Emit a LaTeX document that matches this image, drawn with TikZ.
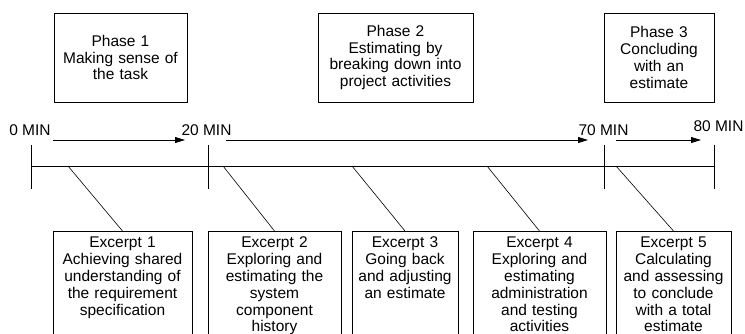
\documentclass[tikz,border=0pt]{standalone}
\usepackage{fontspec}
\setmainfont{Liberation Sans}
\usetikzlibrary{arrows.meta, positioning}

\tikzset{
  phasebox/.style={draw, line width=0.8pt, align=center, inner xsep=2pt, minimum height=89pt},
  excerptbox/.style={draw, line width=0.8pt, anchor=north, align=center, inner xsep=2pt, inner ysep=5.5pt,
    text height=11pt, text depth=110pt},
  minlabel/.style={inner sep=0pt},
  timearrow/.style={line width=0.8pt, -{Triangle[length=10pt,width=6pt]}},
  timeline/.style={line width=0.8pt}
}

\begin{document}
\begin{tikzpicture}[x=1pt, y=-1pt, font=\fontsize{15.5}{16.8}\selectfont]
  \useasboundingbox (0,0) rectangle (745,333);

  % phases
  \node[phasebox, minimum width=133pt, text width=129pt] (phase1) at (120.5,57.5) {Phase 1\\Making sense of\\the task};
  \node[phasebox, minimum width=155pt, text width=151pt] (phase2) at (395.5,57.5) {Phase 2\\Estimating by\\breaking down into\\project activities};
  \node[phasebox, minimum width=110pt, text width=106pt] (phase3) at (659,57.5) {Phase 3\\Concluding\\with an\\estimate};

  % time labels
  \node[minlabel] (m0) at (30,130.5) {0 MIN};
  \node[minlabel] (m20) at (206.5,130.5) {20 MIN};
  \node[minlabel] (m70) at (603.5,130.5) {70 MIN};
  \node[minlabel] (m80) at (718.5,126) {80 MIN};

  \coordinate (a1s) at (53,140);  \coordinate (a1e) at (185,140);
  \coordinate (a2s) at (226,140); \coordinate (a2e) at (588,140);
  \coordinate (a3s) at (616,140); \coordinate (a3e) at (701,140);
  \draw[timearrow] (a1s) -- (a1e);
  \draw[timearrow] (a2s) -- (a2e);
  \draw[timearrow] (a3s) -- (a3e);

  % timeline with ticks
  \coordinate (t0) at (31,166);
  \coordinate (t20) at (208,166);
  \coordinate (t70) at (604,166);
  \coordinate (t80) at (714,166);
  \draw[timeline] (t0) -- (t80);
  \foreach \t in {t0,t20,t70,t80}
    \draw[timeline] ([yshift=-23pt]\t) -- ([yshift=21pt]\t);

  % excerpts
  \node[excerptbox, minimum width=139pt, text width=135pt] (ex1) at (122.5,231) {Excerpt 1\\Achieving shared\\understanding of\\the requirement\\specification};
  \node[excerptbox, minimum width=133pt, text width=129pt] (ex2) at (274.5,231) {Excerpt 2\\Exploring and\\estimating the\\system\\component\\history};
  \node[excerptbox, minimum width=106pt, text width=102pt] (ex3) at (405,231) {Excerpt 3\\Going back\\and adjusting\\an estimate};
  \node[excerptbox, minimum width=133pt, text width=129pt] (ex4) at (539.5,231) {Excerpt 4\\Exploring and\\estimating\\administration\\and testing\\activities};
  \node[excerptbox, minimum width=115pt, text width=111pt] (ex5) at (673.5,231) {Excerpt 5\\Calculating\\and assessing\\to conclude\\with a total\\estimate};

  \coordinate (e1) at (68,166);
  \coordinate (e2) at (223,166);
  \coordinate (e3) at (352,166);
  \coordinate (e4) at (487,166);
  \coordinate (e5) at (616,166);
  \foreach \i in {1,...,5}
    \draw[line width=0.6pt] (e\i) -- (ex\i.north);
\end{tikzpicture}
\end{document}
